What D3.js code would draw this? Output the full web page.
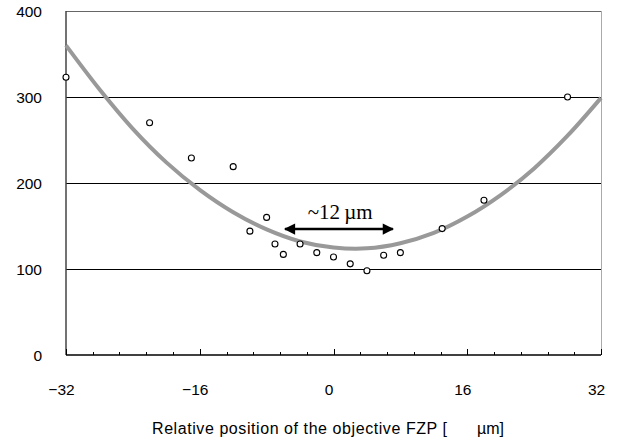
<!DOCTYPE html>
<html>
<head>
<meta charset="utf-8">
<script src="https://cdn.jsdelivr.net/npm/d3@7"></script>
<style>
  body { margin: 0; background: #fff; }
  text { font-family: "Liberation Sans", Arial, sans-serif; }
</style>
</head>
<body>
<div id="chart"></div>
<script>
// measured points
var posX = [-32, -22, -17, -12, -10, -8, -7, -6, -4, -2, 0, 2, 4, 6, 8, 13, 18, 28];
var sizeY = [323, 270, 229, 219, 144, 160, 129, 117, 129, 119, 114, 106, 98, 116, 119, 147, 180, 300];

// fitted curve
var fitX = [-32, -28, -24, -20, -16, -12, -8, -4, 0, 4, 8, 12, 16, 20, 24, 28, 32];
var fitY = [360, 309, 263, 224, 192, 166, 146, 132, 125, 124, 130, 142, 161, 186, 217, 255, 299];

var xMajor = [-32, -16, 0, 16, 32];
var yTicks = [0, 100, 200, 300, 400];

var width = 617, height = 439;
var margin = {top: 11, right: 16, bottom: 84, left: 66};

var svg = d3.select('#chart').append('svg')
    .attr('width', width)
    .attr('height', height);

var x = d3.scaleLinear().domain([-32, 32]).range([margin.left, width - margin.right]);
var y = d3.scaleLinear().domain([0, 400]).range([height - margin.bottom, margin.top]);

// grid lines
svg.selectAll('.grid')
    .data(yTicks.filter(d => d > 0 && d < 400))
    .enter().append('line')
    .attr('x1', x(-32)).attr('x2', x(32))
    .attr('y1', d => Math.round(y(d)) + 0.5).attr('y2', d => Math.round(y(d)) + 0.5)
    .attr('stroke', '#000').attr('stroke-width', 1)
    .attr('shape-rendering', 'crispEdges');

// frame
svg.append('line').attr('x1', x(-32)).attr('x2', x(32)).attr('y1', y(400) + 0.5).attr('y2', y(400) + 0.5)
    .attr('stroke', '#666').attr('stroke-width', 1).attr('shape-rendering', 'crispEdges');
svg.append('line').attr('x1', x(32) + 0.5).attr('x2', x(32) + 0.5).attr('y1', y(400)).attr('y2', y(0))
    .attr('stroke', '#aaa').attr('stroke-width', 1).attr('shape-rendering', 'crispEdges');
svg.append('line').attr('x1', x(-32)).attr('x2', x(-32)).attr('y1', y(400)).attr('y2', y(0))
    .attr('stroke', '#444').attr('stroke-width', 1.5);

// x axis with ticks pointing inward
var minor = d3.range(-32, 32.01, 3.2);
svg.selectAll('.mtick')
    .data(minor)
    .enter().append('line')
    .attr('x1', d => Math.round(x(d)) + 0.5).attr('x2', d => Math.round(x(d)) + 0.5)
    .attr('y1', y(0))
    .attr('y2', d => xMajor.some(m => Math.abs(m - d) < 0.01) ? y(0) - 6 : y(0) - 3.5)
    .attr('stroke', '#000').attr('stroke-width', 1)
    .attr('shape-rendering', 'crispEdges');
svg.append('line').attr('x1', x(-32)).attr('x2', x(32)).attr('y1', y(0)).attr('y2', y(0))
    .attr('stroke', '#000').attr('stroke-width', 1.5);

svg.selectAll('.xlab')
    .data(xMajor)
    .enter().append('text')
    .attr('x', d => x(d) - 4.5)
    .attr('y', y(0) + 40)
    .attr('text-anchor', 'middle')
    .attr('font-size', 15.5)
    .text(d => d < 0 ? '\u2212' + Math.abs(d) : d);

svg.selectAll('.ylab')
    .data(yTicks)
    .enter().append('text')
    .attr('x', 42)
    .attr('y', d => y(d) + 6.3)
    .attr('text-anchor', 'end')
    .attr('font-size', 15.5)
    .text(d => d);

// fitted curve
var fit = fitX.map((d, i) => [d, fitY[i]]);
svg.append('path')
    .datum(fit)
    .attr('fill', 'none')
    .attr('stroke', '#999')
    .attr('stroke-width', 4)
    .attr('d', d3.line().x(d => x(d[0])).y(d => y(d[1])).curve(d3.curveCatmullRom));

// data points
svg.selectAll('.pt')
    .data(posX)
    .enter().append('circle')
    .attr('cx', d => x(d))
    .attr('cy', (d, i) => y(sizeY[i]))
    .attr('r', 3)
    .attr('fill', '#fff')
    .attr('stroke', '#000')
    .attr('stroke-width', 1.1);

// annotation arrow
var defs = svg.append('defs');
defs.append('marker')
    .attr('id', 'arr')
    .attr('viewBox', '0 0 10 10')
    .attr('refX', 9).attr('refY', 5)
    .attr('markerWidth', 5.5).attr('markerHeight', 4.5)
    .attr('markerUnits', 'strokeWidth')
    .attr('orient', 'auto-start-reverse')
    .append('path').attr('d', 'M0,0L10,5L0,10Z').attr('fill', '#000');
svg.append('line')
    .attr('x1', x(-5.8)).attr('x2', x(7.1))
    .attr('y1', y(146.5)).attr('y2', y(146.5))
    .attr('stroke', '#000').attr('stroke-width', 2.5)
    .attr('marker-start', 'url(#arr)')
    .attr('marker-end', 'url(#arr)');
svg.append('text')
    .attr('x', x(0.8))
    .attr('y', y(158))
    .attr('text-anchor', 'middle')
    .attr('font-size', 21)
    .style('font-family', '"Liberation Serif", "Times New Roman", serif')
    .text('~12\u2009\u00b5m');

// axis title
svg.append('text')
    .attr('x', 152)
    .attr('y', 434)
    .attr('font-size', 16)
    .attr('textLength', 295)
    .attr('lengthAdjust', 'spacing')
    .text('Relative position of the objective FZP [');
svg.append('text')
    .attr('x', 477)
    .attr('y', 434)
    .attr('font-size', 16)
    .text('\u00b5m]');
</script>
</body>
</html>
